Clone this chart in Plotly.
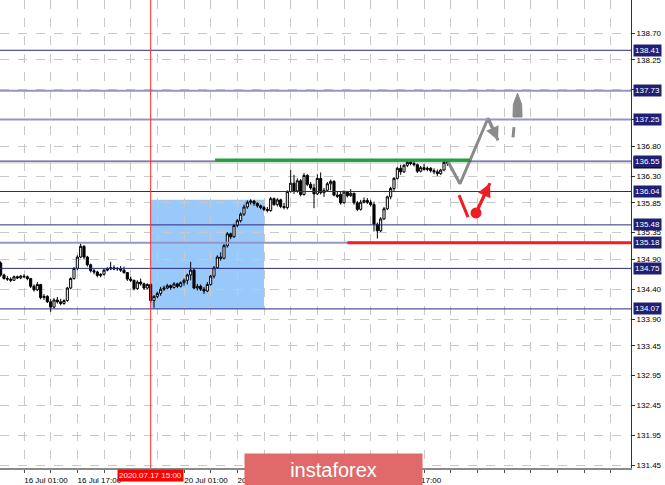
import plotly.graph_objects as go

# ---------------- data (H1 bars, bar 0 = 15 Jul 18:00) ----------------
opens = [134.84,134.64,134.58,134.57,134.55,134.61,134.59,134.62,134.61,134.58,
         134.45,134.39,134.48,134.26,134.28,134.19,134.10,134.22,134.19,134.16,
         134.21,134.42,134.58,134.75,134.94,135.12,134.94,134.81,134.71,134.69,
         134.63,134.65,134.72,134.74,134.76,134.74,134.75,134.72,134.68,134.57,
         134.55,134.41,134.52,134.49,134.42,134.48,134.21,134.28,134.33,134.40,
         134.42,134.46,134.43,134.49,134.45,134.51,134.55,134.64,134.72,134.42,
         134.45,134.40,134.37,134.48,134.62,134.76,134.94,134.92,135.13,135.33,
         135.28,135.47,135.55,135.66,135.78,135.86,135.88,135.84,135.80,135.77,
         135.74,135.72,135.92,135.82,135.90,135.79,135.77,136.04,136.18,136.05,
         136.22,135.99,136.31,136.16,136.10,136.00,136.26,136.02,136.06,136.17,
         136.21,135.98,135.99,135.85,136.03,135.97,136.01,135.85,135.74,135.86,
         135.89,135.86,135.82,135.49,135.38,135.58,135.75,135.95,136.09,136.26,
         136.43,136.37,136.48,136.53,136.51,136.49,136.38,136.44,136.41,136.43,
         136.39,136.37,136.34,136.40,136.53]
highs = [134.87,134.66,134.62,134.60,134.63,134.63,134.64,134.65,134.63,134.59,
         134.48,134.52,134.49,134.32,134.30,134.24,134.25,134.27,134.24,134.23,
         134.44,134.60,134.77,134.97,135.17,135.14,134.96,134.83,134.74,134.71,
         134.67,134.74,134.77,134.86,134.80,134.77,134.79,134.78,134.69,134.61,
         134.56,134.55,134.58,134.51,134.50,134.50,134.30,134.36,134.44,134.46,
         134.49,134.48,134.52,134.51,134.53,134.58,134.66,134.86,134.75,134.49,
         134.48,134.44,134.52,134.64,134.79,134.97,135.02,135.16,135.36,135.35,
         135.50,135.58,135.69,135.82,135.89,135.91,135.90,135.86,135.82,135.80,
         135.78,135.95,135.94,135.93,135.92,135.85,136.06,136.40,136.32,136.26,
         136.25,136.35,136.33,136.20,136.17,136.33,136.36,136.10,136.20,136.24,
         136.23,136.04,136.04,136.06,136.05,136.08,136.02,135.88,135.90,135.94,
         135.93,135.90,135.87,135.52,135.61,135.78,135.97,136.12,136.28,136.45,
         136.49,136.50,136.56,136.56,136.56,136.51,136.47,136.50,136.46,136.45,
         136.43,136.41,136.42,136.56,136.55]
lows = [134.61,134.56,134.54,134.52,134.54,134.57,134.57,134.59,134.55,134.42,
        134.36,134.37,134.23,134.22,134.17,134.02,134.08,134.16,134.13,134.14,
        134.19,134.40,134.56,134.72,134.92,134.90,134.78,134.68,134.65,134.60,
        134.60,134.63,134.70,134.72,134.72,134.71,134.69,134.66,134.54,134.52,
        134.38,134.39,134.46,134.39,134.40,134.17,134.09,134.25,134.29,134.37,
        134.40,134.39,134.41,134.42,134.43,134.46,134.48,134.55,134.40,134.38,
        134.37,134.32,134.35,134.46,134.58,134.74,134.88,134.90,135.10,135.24,
        135.26,135.44,135.52,135.63,135.75,135.82,135.80,135.77,135.74,135.71,
        135.69,135.70,135.80,135.79,135.76,135.74,135.74,136.02,136.00,136.02,
        135.96,135.97,136.13,136.07,135.76,135.98,135.99,135.95,136.04,136.06,
        135.96,135.93,135.82,135.84,135.94,135.95,135.82,135.71,135.72,135.84,
        135.83,135.79,135.37,135.25,135.36,135.56,135.73,135.91,136.05,136.24,
        136.32,136.35,136.45,136.48,136.46,136.35,136.36,136.39,136.38,136.36,
        136.33,136.30,136.32,136.38,136.47]
closes = [134.64,134.58,134.57,134.55,134.61,134.59,134.62,134.61,134.58,134.45,
          134.39,134.48,134.26,134.28,134.19,134.10,134.22,134.19,134.16,134.21,
          134.42,134.58,134.75,134.94,135.12,134.94,134.81,134.71,134.69,134.63,
          134.65,134.72,134.74,134.76,134.74,134.75,134.72,134.68,134.57,134.55,
          134.41,134.52,134.49,134.42,134.48,134.21,134.28,134.33,134.40,134.42,
          134.46,134.43,134.49,134.45,134.51,134.55,134.64,134.72,134.42,134.45,
          134.40,134.37,134.48,134.62,134.76,134.94,134.92,135.13,135.33,135.28,
          135.47,135.55,135.66,135.78,135.86,135.88,135.84,135.80,135.77,135.74,
          135.72,135.92,135.82,135.90,135.79,135.77,136.04,136.18,136.05,136.22,
          135.99,136.31,136.16,136.10,136.00,136.26,136.02,136.06,136.17,136.21,
          135.98,135.96,135.85,136.03,135.97,136.01,135.85,135.74,135.86,135.89,
          135.86,135.82,135.49,135.38,135.58,135.75,135.95,136.09,136.26,136.43,
          136.37,136.48,136.53,136.51,136.49,136.38,136.44,136.41,136.43,136.39,
          136.37,136.34,136.40,136.53,136.52]
bars = list(range(len(closes)))

# time axis labels (every 16 H1 bars; those hidden under the overlays are left out), grid every 8 bars
label_bars = [7, 23, 55, 71, 119]
label_texts = ["16 Jul 01:00", "16 Jul 17:00", "20 Jul 01:00", "20 Jul 17:00", "22 Jul 17:00"]
grid_bars = list(range(7, 190, 8))

# price axis ticks
price_ticks = [138.70, 138.25, 137.75, 137.25, 136.80, 136.30, 135.85, 135.35,
               134.90, 134.40, 133.90, 133.45, 132.95, 132.45, 131.95, 131.45]
price_tick_text = ["138.70", "138.25", "", "", "136.80", "136.30", "135.85", "135.35",
                   "134.90", "134.40", "133.90", "133.45", "132.95", "132.45", "131.95", "131.45"]

# horizontal levels
levels = [138.41, 137.73, 137.25, 136.55, 136.04, 135.48, 135.18, 134.75, 134.07]
level_light = [False, True, True, False, False, False, True, False, False]

# analysis drawings (bar index, price)
marker_bar = 45                      # 2020.07.17 15:00
box_bars = (45, 79)
box_prices = (134.07, 135.90)
green_bars = (64.3, 140.8); green_price = 136.57
red_start_bar = 104.0; red_price = 135.18
gray_path_bars = [134.2, 137.8, 146.2]
gray_path_prices = [136.54, 136.17, 137.27]
gray_arrow_end = (149.2, 136.90)
gray_dash_bars = [154.0, 153.7]; gray_dash_prices = [137.12, 136.95]
gray_head_bars = [155.05, 156.3, 156.4, 153.7, 153.8, 155.05]
gray_head_prices = [137.69, 137.50, 137.29, 137.29, 137.50, 137.69]
red_seg_bars = [137.5, 140.2]; red_seg_prices = [135.98, 135.61]
red_dot = (142.6, 135.68)
red_arrow_end = (146.8, 136.18)

NAVY = "#1f1f74"
FONT = "Liberation Sans"

fig = go.Figure()
fig.add_trace(go.Candlestick(
    x=bars, open=opens, high=highs, low=lows, close=closes,
    increasing=dict(line=dict(color="black", width=1), fillcolor="white"),
    decreasing=dict(line=dict(color="black", width=1), fillcolor="black"),
    whiskerwidth=0, hoverinfo="skip", showlegend=False))

# gray path
fig.add_trace(go.Scatter(x=gray_path_bars + [gray_arrow_end[0]],
                         y=gray_path_prices + [gray_arrow_end[1]],
                         mode="lines", line=dict(color="#8a8a8a", width=3),
                         hoverinfo="skip", showlegend=False))
fig.add_trace(go.Scatter(x=gray_dash_bars, y=gray_dash_prices, mode="lines",
                         line=dict(color="#8a8a8a", width=3), hoverinfo="skip", showlegend=False))
fig.add_trace(go.Scatter(x=gray_head_bars, y=gray_head_prices, mode="lines", fill="toself",
                         fillcolor="#8a8a8a", line=dict(color="#8a8a8a", width=1),
                         hoverinfo="skip", showlegend=False))
# red drawings
fig.add_trace(go.Scatter(x=red_seg_bars, y=red_seg_prices, mode="lines",
                         line=dict(color="#f01c24", width=3), hoverinfo="skip", showlegend=False))
fig.add_trace(go.Scatter(x=[red_dot[0], red_arrow_end[0]], y=[red_dot[1], red_arrow_end[1]],
                         mode="lines", line=dict(color="#f01c24", width=3),
                         hoverinfo="skip", showlegend=False))
fig.add_trace(go.Scatter(x=[red_dot[0]], y=[red_dot[1]], mode="markers",
                         marker=dict(color="#f01c24", size=11), hoverinfo="skip", showlegend=False))

shapes = []
shapes.append(dict(type="rect", xref="x", yref="y", x0=box_bars[0], x1=box_bars[1],
                   y0=box_prices[0], y1=box_prices[1], fillcolor="#99c9fb",
                   line=dict(width=0), layer="below"))
for lv, light in zip(levels, level_light):
    shapes.append(dict(type="line", xref="paper", yref="y", x0=0, x1=1, y0=lv, y1=lv,
                       line=dict(color="#9696c6" if light else "#2b2b80",
                                 width=2 if light else 1), layer="above"))
shapes.append(dict(type="line", xref="paper", yref="y", x0=0, x1=1,
                   y0=closes[-1], y1=closes[-1], line=dict(color="#c0c0c0", width=1), layer="below"))
shapes.append(dict(type="line", xref="x", yref="y", x0=green_bars[0], x1=green_bars[1],
                   y0=green_price, y1=green_price, line=dict(color="#22a040", width=3), layer="above"))
shapes.append(dict(type="line", xref="x", yref="y", x0=red_start_bar, x1=189.1,
                   y0=red_price, y1=red_price, line=dict(color="#f02020", width=3), layer="above"))
shapes.append(dict(type="line", xref="x", yref="paper", x0=marker_bar, x1=marker_bar,
                   y0=0, y1=1, line=dict(color="#ff3030", width=1), layer="above"))

annotations = []
# arrow heads
annotations.append(dict(x=gray_arrow_end[0], y=gray_arrow_end[1], ax=gray_path_bars[-1],
                        ay=gray_path_prices[-1], xref="x", yref="y", axref="x", ayref="y",
                        showarrow=True, arrowhead=2, arrowsize=0.9, arrowwidth=3,
                        arrowcolor="#8a8a8a", text=""))
annotations.append(dict(x=red_arrow_end[0], y=red_arrow_end[1], ax=red_dot[0], ay=red_dot[1],
                        xref="x", yref="y", axref="x", ayref="y", showarrow=True,
                        arrowhead=2, arrowsize=0.9, arrowwidth=3, arrowcolor="#f01c24", text=""))
# current price label
annotations.append(dict(x=1, xref="paper", y=closes[-1], yref="y", xanchor="left", xshift=2,
                        text=f"{closes[-1]:.2f}", showarrow=False, bgcolor="black",
                        font=dict(family=FONT, size=8, color="white"), borderpad=1))
for lv in levels:
    annotations.append(dict(x=1, xref="paper", y=lv, yref="y", xanchor="left", xshift=2,
                            text=f"{lv:.2f}", showarrow=False, bgcolor=NAVY,
                            font=dict(family=FONT, size=8, color="white"), borderpad=1))
# crosshair time label
annotations.append(dict(x=marker_bar, xref="x", y=-0.017, yref="paper", yanchor="middle",
                        text="2020.07.17 15:00", showarrow=False, bgcolor="#ff0000",
                        font=dict(family=FONT, size=8, color="white"), borderpad=1))
# watermark
annotations.append(dict(x=0.5285, xref="paper", y=-0.003, yref="paper", xanchor="center",
                        yanchor="middle", text="instaforex", showarrow=False,
                        bgcolor="#e06a6a", width=177, height=31, borderpad=0,
                        font=dict(family=FONT, size=20, color="white")))

fig.update_layout(
    width=665, height=485,
    margin=dict(l=0, r=34, t=0, b=17),
    paper_bgcolor="white", plot_bgcolor="white",
    shapes=shapes, annotations=annotations,
    hovermode=False, showlegend=False, boxgap=0.1,
    xaxis=dict(range=[-0.2, 189.1], rangeslider=dict(visible=False),
               tickmode="array", tickvals=grid_bars,
               ticktext=[label_texts[label_bars.index(b)] if b in label_bars else "" for b in grid_bars],
               ticks="outside", ticklen=3, tickcolor="#555",
               ticklabelshift=22,
               tickfont=dict(family=FONT, size=8, color="black"),
               showgrid=True, gridcolor="#c8c8c8", griddash="dash", gridwidth=1,
               showline=True, linecolor="#8a8a8a", linewidth=2, zeroline=False, fixedrange=True),
    yaxis=dict(range=[131.40, 139.254], side="right",
               tickmode="array", tickvals=price_ticks, ticktext=price_tick_text,
               ticks="outside", ticklen=3, tickcolor="#333",
               tickfont=dict(family=FONT, size=8, color="black"),
               showgrid=True, gridcolor="#c8c8c8", griddash="dash", gridwidth=1,
               showline=True, linecolor="#333", linewidth=1, zeroline=False, fixedrange=True),
)

fig.write_html("out.html", config={"displayModeBar": False, "staticPlot": True},
               post_script="document.body.style.margin='0px';document.body.style.overflow='hidden';")
